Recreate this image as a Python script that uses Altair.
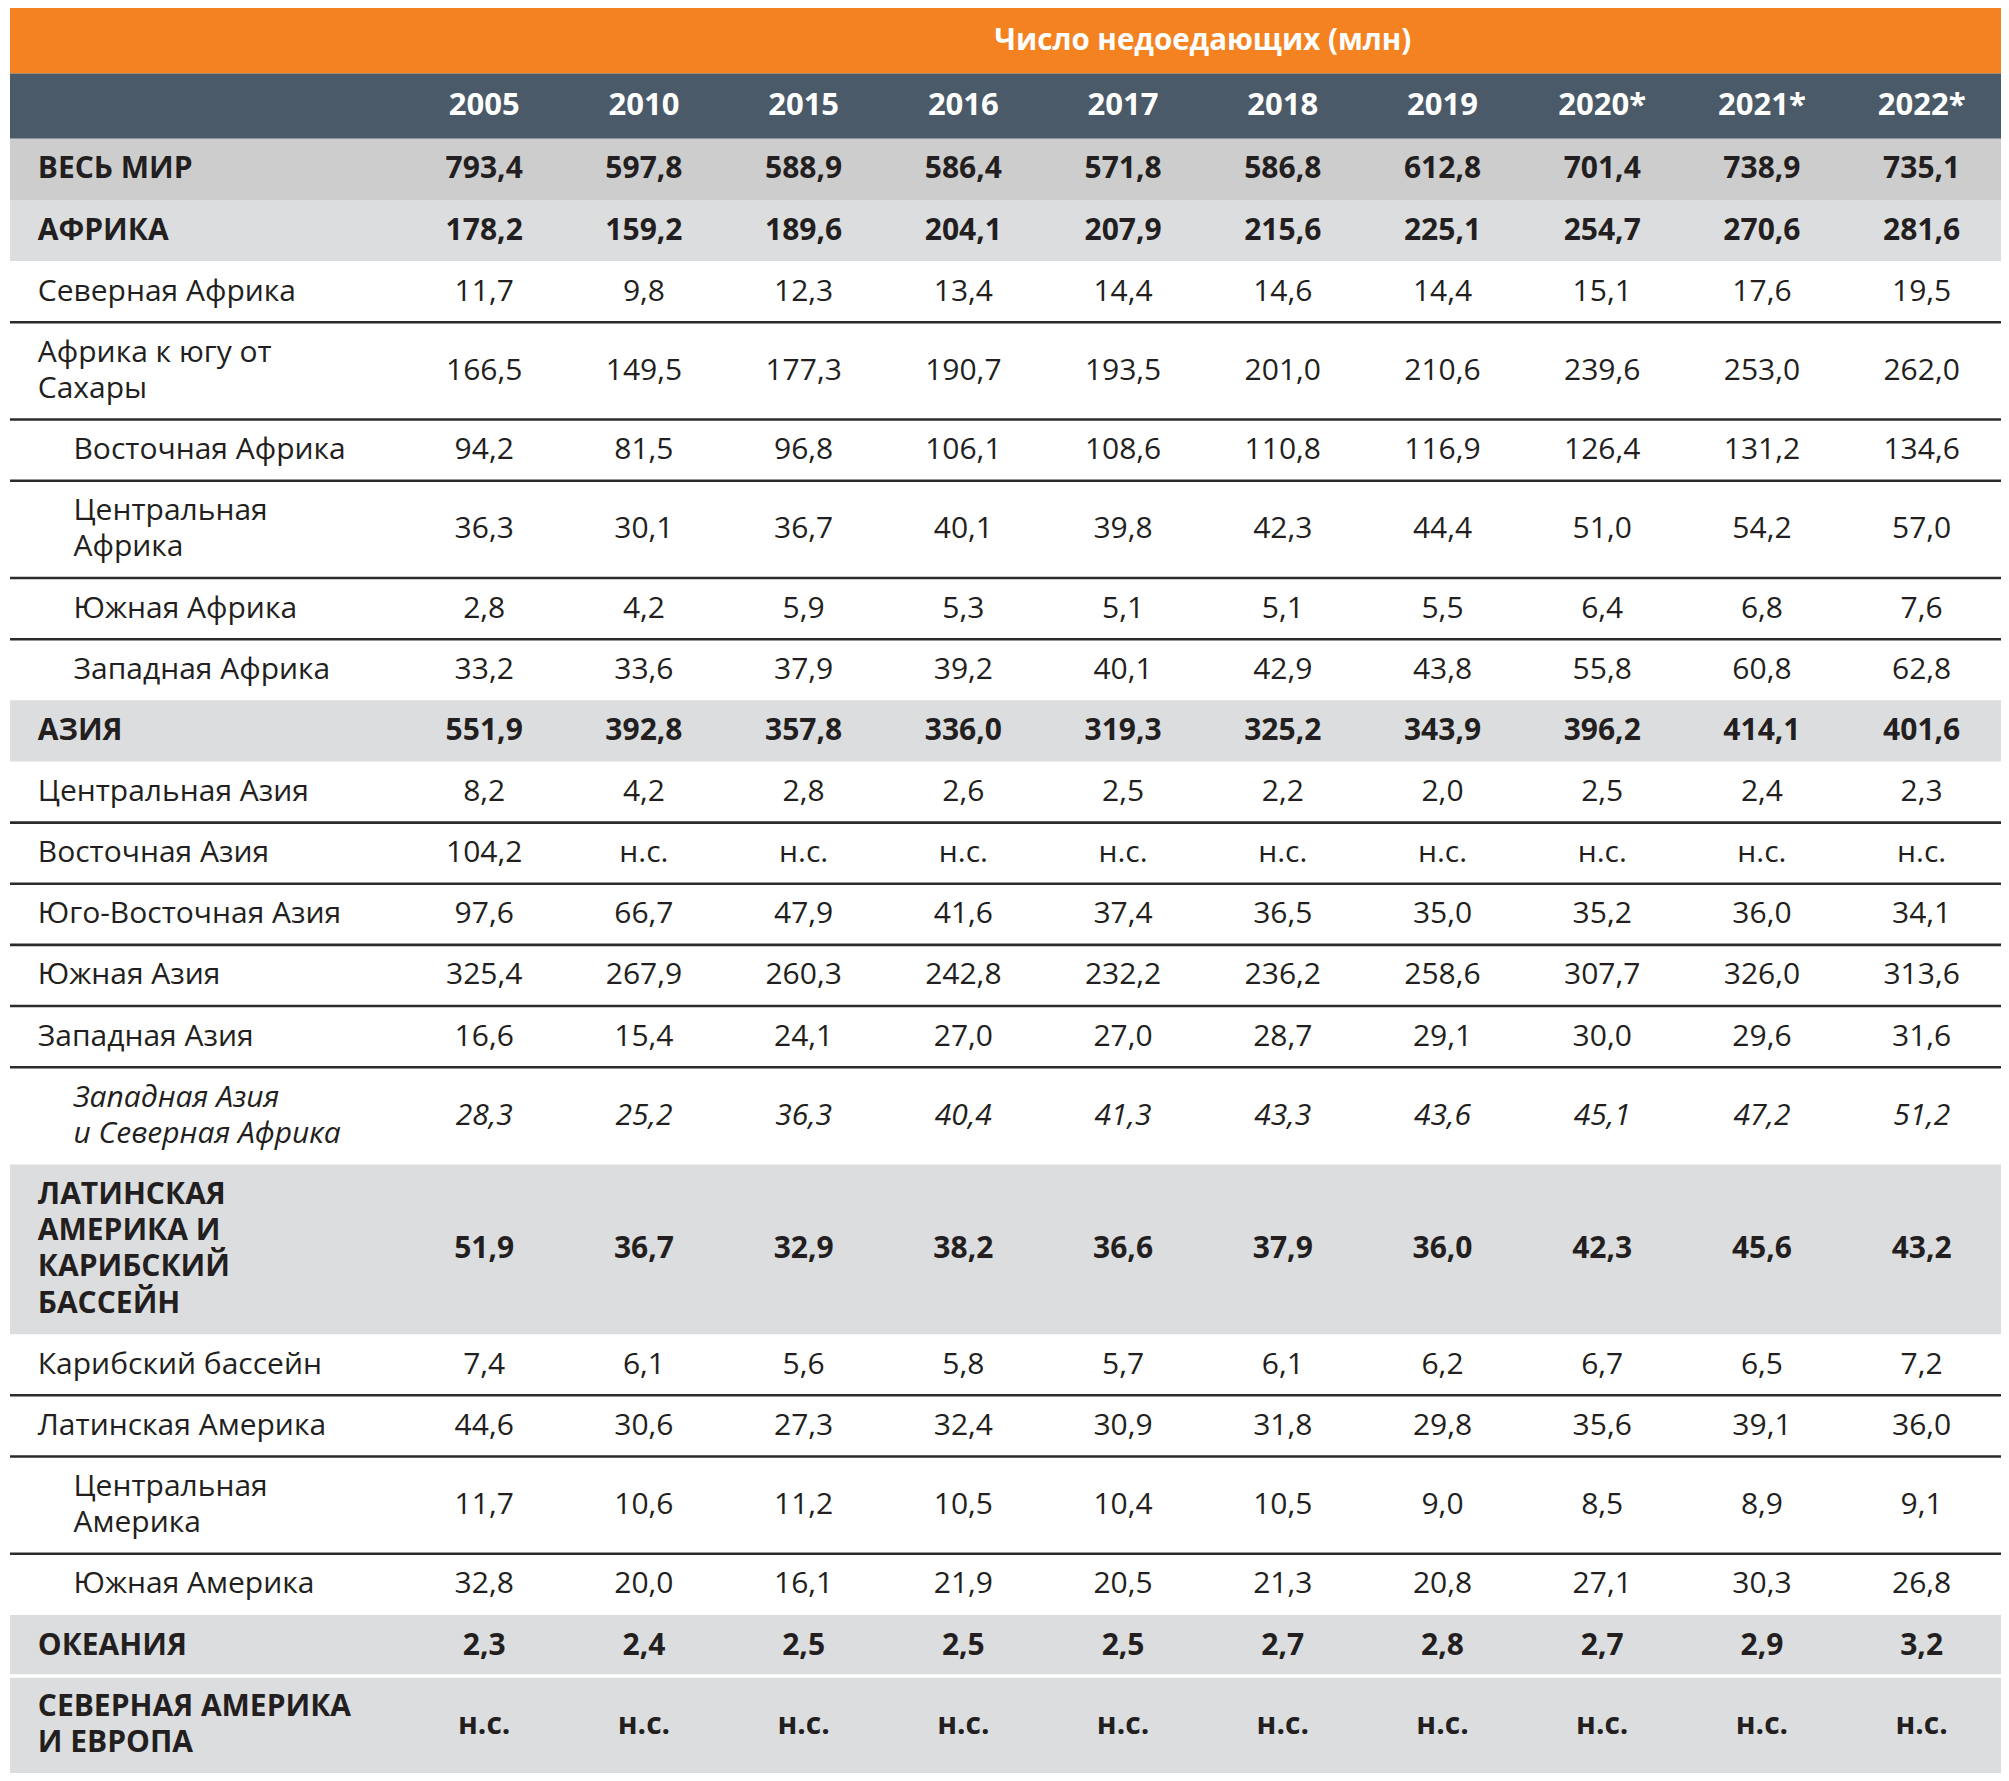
import altair as alt
import pandas as pd

# ---------------- data ----------------
title_text = "Число недоедающих (млн)"
years = ["2005", "2010", "2015", "2016", "2017", "2018", "2019", "2020*", "2021*", "2022*"]

labels = [
    "ВЕСЬ МИР", "АФРИКА", "Северная Африка", "Африка к югу от\nСахары",
    "Восточная Африка", "Центральная\nАфрика", "Южная Африка", "Западная Африка",
    "АЗИЯ", "Центральная Азия", "Восточная Азия", "Юго-Восточная Азия",
    "Южная Азия", "Западная Азия", "Западная Азия\nи Северная Африка",
    "ЛАТИНСКАЯ\nАМЕРИКА И\nКАРИБСКИЙ\nБАССЕЙН", "Карибский бассейн",
    "Латинская Америка", "Центральная\nАмерика", "Южная Америка",
    "ОКЕАНИЯ", "СЕВЕРНАЯ АМЕРИКА\nИ ЕВРОПА",
]
kinds = [
    "world", "region", "sub", "sub", "subsub", "subsub", "subsub", "subsub",
    "region", "sub", "sub", "sub", "sub", "sub", "italic",
    "region", "sub", "sub", "subsub", "subsub", "region", "region",
]

v2005 = ["793,4", "178,2", "11,7", "166,5", "94,2", "36,3", "2,8", "33,2", "551,9", "8,2", "104,2", "97,6", "325,4", "16,6", "28,3", "51,9", "7,4", "44,6", "11,7", "32,8", "2,3", "н.с."]
v2010 = ["597,8", "159,2", "9,8", "149,5", "81,5", "30,1", "4,2", "33,6", "392,8", "4,2", "н.с.", "66,7", "267,9", "15,4", "25,2", "36,7", "6,1", "30,6", "10,6", "20,0", "2,4", "н.с."]
v2015 = ["588,9", "189,6", "12,3", "177,3", "96,8", "36,7", "5,9", "37,9", "357,8", "2,8", "н.с.", "47,9", "260,3", "24,1", "36,3", "32,9", "5,6", "27,3", "11,2", "16,1", "2,5", "н.с."]
v2016 = ["586,4", "204,1", "13,4", "190,7", "106,1", "40,1", "5,3", "39,2", "336,0", "2,6", "н.с.", "41,6", "242,8", "27,0", "40,4", "38,2", "5,8", "32,4", "10,5", "21,9", "2,5", "н.с."]
v2017 = ["571,8", "207,9", "14,4", "193,5", "108,6", "39,8", "5,1", "40,1", "319,3", "2,5", "н.с.", "37,4", "232,2", "27,0", "41,3", "36,6", "5,7", "30,9", "10,4", "20,5", "2,5", "н.с."]
v2018 = ["586,8", "215,6", "14,6", "201,0", "110,8", "42,3", "5,1", "42,9", "325,2", "2,2", "н.с.", "36,5", "236,2", "28,7", "43,3", "37,9", "6,1", "31,8", "10,5", "21,3", "2,7", "н.с."]
v2019 = ["612,8", "225,1", "14,4", "210,6", "116,9", "44,4", "5,5", "43,8", "343,9", "2,0", "н.с.", "35,0", "258,6", "29,1", "43,6", "36,0", "6,2", "29,8", "9,0", "20,8", "2,8", "н.с."]
v2020 = ["701,4", "254,7", "15,1", "239,6", "126,4", "51,0", "6,4", "55,8", "396,2", "2,5", "н.с.", "35,2", "307,7", "30,0", "45,1", "42,3", "6,7", "35,6", "8,5", "27,1", "2,7", "н.с."]
v2021 = ["738,9", "270,6", "17,6", "253,0", "131,2", "54,2", "6,8", "60,8", "414,1", "2,4", "н.с.", "36,0", "326,0", "29,6", "47,2", "45,6", "6,5", "39,1", "8,9", "30,3", "2,9", "н.с."]
v2022 = ["735,1", "281,6", "19,5", "262,0", "134,6", "57,0", "7,6", "62,8", "401,6", "2,3", "н.с.", "34,1", "313,6", "31,6", "51,2", "43,2", "7,2", "36,0", "9,1", "26,8", "3,2", "н.с."]
columns = [v2005, v2010, v2015, v2016, v2017, v2018, v2019, v2020, v2021, v2022]

# ---------------- layout (in reference pixel units) ----------------
TOTAL_W, TOTAL_H = 2009, 1781
W, H = 1993, 1765
BAND_H = 66
ROW_H, LINE_H = 61.7, 36.5
COL0, COL_STEP = 478, 161
INDENT = {"world": 28, "region": 28, "sub": 28, "subsub": 64, "italic": 64}
FILL = {"world": "#cdcdce", "region": "#dcdddf"}
FS = 30
FONT = "Open Sans"
TXT = "#231f20"

rows = []
y = 2 * BAND_H
for i, (lab, k) in enumerate(zip(labels, kinds)):
    n = lab.count("\n") + 1
    h = ROW_H + (n - 1) * LINE_H
    rows.append({"i": i, "label": lab, "kind": k, "y0": y, "y1": y + h,
                 "yc": y + h / 2, "ty": y + h / 2 - (n - 1) * LINE_H / 2,
                 "lx": INDENT[k]})
    y += h
rows_df = pd.DataFrame(rows)

bands = pd.DataFrame([
    {"y0": 0, "y1": BAND_H, "c": "#f58220"},
    {"y0": BAND_H, "y1": 2 * BAND_H, "c": "#4a5a69"},
])
for r in rows:
    if r["kind"] in FILL:
        bands.loc[len(bands)] = {"y0": r["y0"], "y1": r["y1"], "c": FILL[r["kind"]]}

# separators
seps = []
for a, b in zip(rows[:-1], rows[1:]):
    fa, fb = FILL.get(a["kind"], "white"), FILL.get(b["kind"], "white")
    if fa == "white" and fb == "white":
        seps.append({"y": a["y1"], "c": "#2b2b2b", "w": 2.6})
    elif fa == fb:
        seps.append({"y": a["y1"], "c": "#ffffff", "w": 3.5})
seps_df = pd.DataFrame(seps)

cells = []
for j, (yr, col) in enumerate(zip(years, columns)):
    for r, v in zip(rows, col):
        cells.append({"x": COL0 + j * COL_STEP, "yc": r["yc"], "v": v, "kind": r["kind"]})
cells_df = pd.DataFrame(cells)

head_df = pd.DataFrame([{"x": COL0 + j * COL_STEP, "y": BAND_H * 1.5, "t": yr} for j, yr in enumerate(years)])
title_df = pd.DataFrame([{"x": COL0 + 4.5 * COL_STEP, "y": BAND_H / 2, "t": title_text}])

xs = alt.Scale(domain=[0, TOTAL_W], range=[0, W], nice=False, zero=False)
ys = alt.Scale(domain=[0, TOTAL_H], range=[0, H], nice=False, zero=False)

def X(f):
    return alt.X(f, type="quantitative", scale=xs, axis=None)

def Y(f):
    return alt.Y(f, type="quantitative", scale=ys, axis=None)

bg = alt.Chart(bands).mark_rect(strokeWidth=0).encode(
    x=alt.X(datum=0, type="quantitative", scale=xs, axis=None),
    x2=alt.X2(datum=TOTAL_W),
    y=Y("y0"), y2=alt.Y2("y1"),
    color=alt.Color("c:N", scale=None),
)

sep = alt.Chart(seps_df).mark_rule().encode(
    x=alt.X(datum=0, type="quantitative", scale=xs, axis=None),
    x2=alt.X2(datum=TOTAL_W),
    y=Y("y"),
    color=alt.Color("c:N", scale=None),
    strokeWidth=alt.StrokeWidth("w:Q", scale=None),
)

title = alt.Chart(title_df).mark_text(
    font=FONT, fontSize=29.5, fontWeight="bold", color="white", align="center", baseline="middle"
).encode(x=X("x"), y=Y("y"), text="t:N")

head = alt.Chart(head_df).mark_text(
    font=FONT, fontSize=31, fontWeight="bold", color="white", align="center", baseline="middle"
).encode(x=X("x"), y=Y("y"), text="t:N")

def lab_layer(kset, weight, style):
    return alt.Chart(rows_df).transform_filter(
        alt.FieldOneOfPredicate(field="kind", oneOf=kset)
    ).mark_text(
        font=FONT, fontSize=FS, fontWeight=weight, fontStyle=style, color=TXT,
        align="left", baseline="middle", lineBreak="\n", lineHeight=LINE_H * W / TOTAL_W,
    ).encode(x=X("lx"), y=Y("ty"), text="label:N")

def val_layer(kset, weight, style):
    return alt.Chart(cells_df).transform_filter(
        alt.FieldOneOfPredicate(field="kind", oneOf=kset)
    ).mark_text(
        font=FONT, fontSize=FS, fontWeight=weight, fontStyle=style, color=TXT,
        align="center", baseline="middle",
    ).encode(x=X("x"), y=Y("yc"), text="v:N")

layers = [
    bg, sep, title, head,
    lab_layer(["world", "region"], "bold", "normal"),
    lab_layer(["sub", "subsub"], "normal", "normal"),
    lab_layer(["italic"], "normal", "italic"),
    val_layer(["world", "region"], "bold", "normal"),
    val_layer(["sub", "subsub"], "normal", "normal"),
    val_layer(["italic"], "normal", "italic"),
]

chart = alt.layer(*layers).properties(
    width=W, height=H, padding=0,
    autosize=alt.AutoSizeParams(type="fit", contains="padding"),
    background="white",
).configure_view(stroke=None)

chart.save("out.html", embed_options={"renderer": "svg", "actions": False})
